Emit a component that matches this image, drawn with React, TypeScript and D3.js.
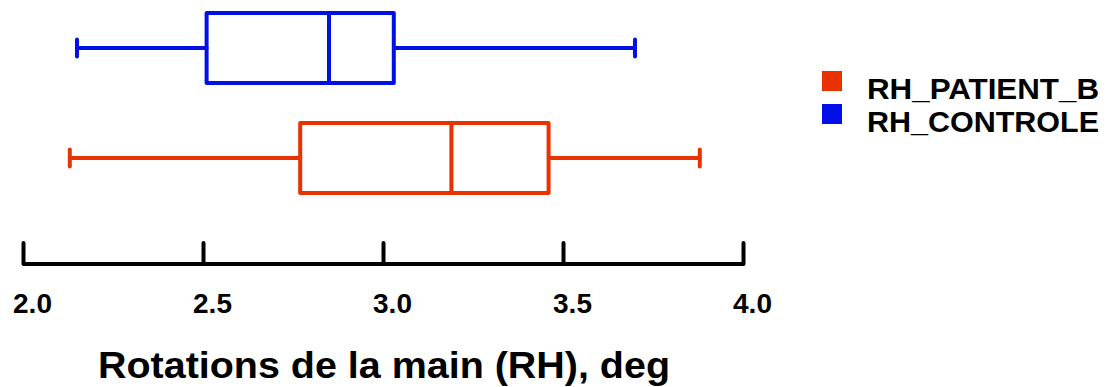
import * as d3 from 'd3';
import React, {useEffect, useRef} from 'react';

// box plot stats (deg)
const groups = ['RH_CONTROLE', 'RH_PATIENT_B'];
const whiskerLow = [2.15, 2.13];
const q1 = [2.51, 2.77];
const medians = [2.85, 3.19];
const q3 = [3.03, 3.46];
const whiskerHigh = [3.70, 3.88];
const colors = ['#0010e6', '#e83200'];

const legendOrder = ['RH_PATIENT_B', 'RH_CONTROLE'];
const tickValues = [2.0, 2.5, 3.0, 3.5, 4.0];
const axisTitle = 'Rotations de la main (RH), deg';

const App = () => {
    const ref = useRef(null);

    useEffect(() => {
        const width = 1108, height = 387;
        const svg = d3.select(ref.current);
        svg.selectAll('*').remove();

        const font = 'Liberation Sans, Arial, sans-serif';

        const x = d3.scaleLinear()
            .domain([2, 4])
            .range([23, 743]);

        const y = d3.scaleBand()
            .domain(groups)
            .range([13, 193])
            .paddingInner(4 / 11)
            .paddingOuter(0);

        const chart = svg.append('g');

        groups.forEach((g, i) => {
            const top = y(g);
            const bh = y.bandwidth();
            const mid = top + bh / 2;
            const c = colors[i];
            const grp = chart.append('g')
                .attr('stroke', c)
                .attr('stroke-width', 4)
                .attr('fill', 'none')
                .attr('stroke-linecap', 'round')
                .attr('stroke-linejoin', 'round');

            // whiskers
            grp.append('line')
                .attr('x1', x(whiskerLow[i])).attr('x2', x(q1[i]))
                .attr('y1', mid).attr('y2', mid);
            grp.append('line')
                .attr('x1', x(q3[i])).attr('x2', x(whiskerHigh[i]))
                .attr('y1', mid).attr('y2', mid);
            // caps
            [whiskerLow[i], whiskerHigh[i]].forEach((v) => {
                grp.append('line')
                    .attr('x1', x(v)).attr('x2', x(v))
                    .attr('y1', mid - 8.5).attr('y2', mid + 8.5);
            });
            // box
            grp.append('rect')
                .attr('x', x(q1[i]))
                .attr('y', top)
                .attr('width', x(q3[i]) - x(q1[i]))
                .attr('height', bh);
            // median
            grp.append('line')
                .attr('x1', x(medians[i])).attr('x2', x(medians[i]))
                .attr('y1', top).attr('y2', top + bh);
        });

        // x axis
        const axisY = 264;
        const axis = svg.append('g')
            .attr('transform', `translate(0,${axisY})`);
        axis.call(d3.axisTop(x)
            .tickValues(tickValues)
            .tickSize(21)
            .tickSizeOuter(0)
            .tickFormat(d3.format('.1f')));
        axis.select('.domain')
            .attr('stroke', 'black')
            .attr('stroke-width', 4)
            .attr('d', `M${x(2)},0H${x(4)}`);
        axis.selectAll('.tick line')
            .attr('stroke', 'black')
            .attr('stroke-width', 4)
            .attr('stroke-linecap', 'round');
        axis.selectAll('.tick text')
            .attr('y', 49)
            .attr('dy', 0)
            .attr('x', 9)
            .attr('fill', 'black')
            .attr('font-family', font)
            .attr('font-weight', 'bold')
            .attr('font-size', 28)
            .attr('text-anchor', 'middle');

        svg.append('text')
            .attr('x', 98)
            .attr('y', 378)
            .attr('textLength', 572)
            .attr('lengthAdjust', 'spacingAndGlyphs')
            .attr('font-family', font)
            .attr('font-weight', 'bold')
            .attr('font-size', 36)
            .attr('fill', 'black')
            .text(axisTitle);

        // legend
        const legend = svg.append('g')
            .attr('transform', 'translate(822,71)');
        legendOrder.forEach((name, i) => {
            const gi = groups.indexOf(name);
            legend.append('rect')
                .attr('x', 0)
                .attr('y', i * 33)
                .attr('width', 20)
                .attr('height', 20)
                .attr('fill', colors[gi]);
            legend.append('text')
                .attr('x', 45)
                .attr('y', i * 33 + 28)
                .attr('textLength', 232)
                .attr('lengthAdjust', 'spacingAndGlyphs')
                .attr('font-family', font)
                .attr('font-weight', 'bold')
                .attr('font-size', 29)
                .attr('fill', 'black')
                .text(name);
        });

        svg.attr('width', width).attr('height', height);
    }, []);

    return (
        <svg ref={ref} width={1108} height={387}
            style={{position: 'absolute', left: 0, top: 0, background: 'white'}} />
    );
};

export default App;
